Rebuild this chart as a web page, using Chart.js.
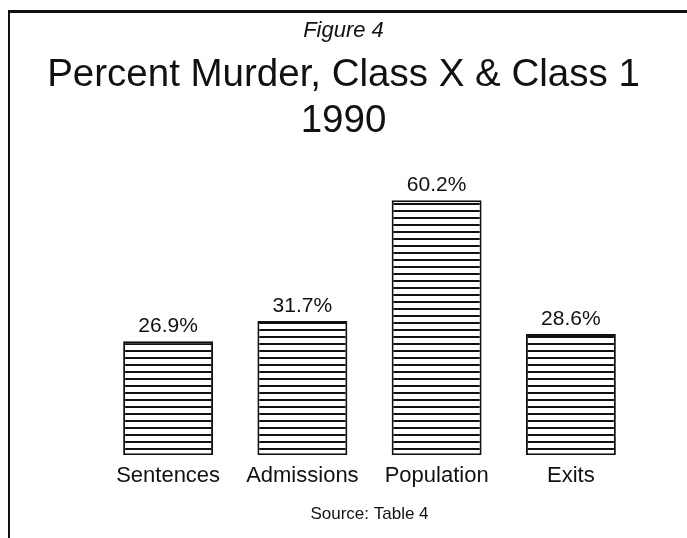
<!DOCTYPE html>
<html>
<head>
<meta charset="utf-8">
<script src="https://cdn.jsdelivr.net/npm/chart.js@4.4.0/dist/chart.umd.min.js"></script>
<style>
html, body { margin: 0; padding: 0; background: #fff; }
#wrap { position: relative; width: 687px; height: 538px; }
#frame { position: absolute; left: 8px; top: 10px; right: 0; bottom: 0; border-top: 3px solid #111; border-left: 2px solid #111; }
canvas { position: absolute; left: 0; top: 0; }
</style>
</head>
<body>
<div id="wrap"><div id="frame"></div><canvas id="chart" width="687" height="538"></canvas></div>
<script>
var categories = ['Sentences', 'Admissions', 'Population', 'Exits']
var percents = [26.9, 31.7, 60.2, 28.6]
var valueLabels = percents.map(function (v) { return v.toFixed(1) + '%' })

var FONT = '"Liberation Sans", Arial, sans-serif'
Chart.defaults.font.family = FONT
Chart.defaults.color = '#111'

// horizontal line fill like the old plotter hatch
function hatch() {
    var p = document.createElement('canvas')
    p.width = 8
    p.height = 7
    var g = p.getContext('2d')
    g.fillStyle = '#fff'
    g.fillRect(0, 0, 8, 7)
    g.fillStyle = '#111'
    g.fillRect(0, 0, 8, 2)
    return g.createPattern(p, 'repeat')
}

var valueLabelPlugin = {
    id: 'valueLabels',
    afterDatasetsDraw: function (chart) {
        var ctx = chart.ctx
        var meta = chart.getDatasetMeta(0)
        ctx.save()
        ctx.font = '21px ' + FONT
        ctx.fillStyle = '#111'
        ctx.textAlign = 'center'
        ctx.textBaseline = 'alphabetic'
        meta.data.forEach(function (bar, i) {
            ctx.fillText(valueLabels[i], bar.x, bar.y - 9)
        })
        ctx.restore()
    }
}

var ctx = document.getElementById('chart')

new Chart(ctx, {
    type: 'bar',
    data: {
        labels: categories,
        datasets: [{
            data: percents,
            backgroundColor: hatch(),
            borderColor: '#111',
            borderWidth: 2,
            borderSkipped: false,
            categoryPercentage: 1,
            barPercentage: 0.67
        }]
    },
    plugins: [valueLabelPlugin],
    options: {
        responsive: false,
        animation: false,
        layout: { padding: { top: 18, bottom: 13 } },
        plugins: {
            legend: { display: false },
            tooltip: { enabled: false },
            title: {
                display: true,
                text: 'Figure 4',
                font: { size: 22, style: 'italic', weight: 'normal' },
                padding: { top: 0, bottom: 8 }
            },
            subtitle: {
                display: true,
                text: ['Percent Murder, Class X & Class 1', '1990'],
                color: '#111',
                font: { size: 38.5, lineHeight: 1.2 },
                padding: { top: 0, bottom: 50 }
            }
        },
        scales: {
            x: {
                grid: { display: false },
                border: { display: false },
                ticks: { font: { size: 22 }, padding: 0 },
                title: { display: true, text: 'Source: Table 4', font: { size: 17 }, padding: { top: 15, bottom: 0 } }
            },
            y: {
                position: 'left',
                min: 0,
                max: 61.5,
                grid: { display: false },
                border: { display: false },
                ticks: { display: false },
                afterFit: function (s) { s.width = 101 }
            },
            y2: {
                type: 'linear',
                position: 'right',
                grid: { display: false },
                border: { display: false },
                ticks: { display: false },
                afterFit: function (s) { s.width = 49 }
            }
        }
    }
})
</script>
</body>
</html>
